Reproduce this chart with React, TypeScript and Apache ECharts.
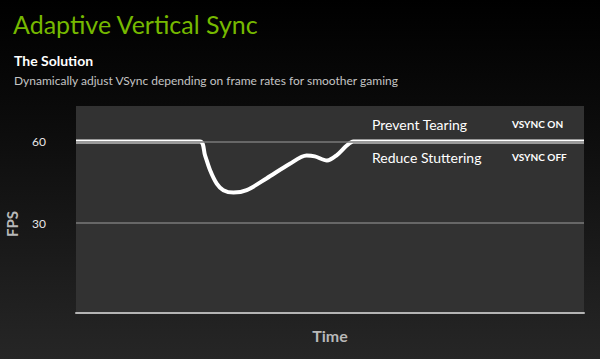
import React, { useEffect, useRef } from "react";
import * as echarts from "echarts";

const timePoints = [0, 24.4, 25.4, 26.4, 27.7, 29.0, 31.0, 33.6, 37.5, 42.1, 45.4, 47.0, 49.4, 51.3, 53.3, 54.6, 100];
const fpsValues = [60, 60, 54.9, 49.4, 44.5, 42.1, 41.2, 42.1, 46.4, 51.8, 54.8, 54.5, 53.0, 54.9, 58.5, 60, 60];
const yTickLabels = [30, 60];
const refLines = [30, 60];

export default function App() {
  const ref = useRef<HTMLDivElement>(null);
  useEffect(() => {
    if (!ref.current) return;
    const chart = echarts.init(ref.current, undefined, { renderer: "svg" });
    const font = "Lato, 'Open Sans', sans-serif";
    chart.setOption({
      animation: false,
      backgroundColor: {
        type: "linear",
        x: 0, y: 0, x2: 0, y2: 1,
        colorStops: [
          { offset: 0, color: "#000000" },
          { offset: 0.3, color: "#0a0a0a" },
          { offset: 1, color: "#262626" },
        ],
      },
      grid: {
        left: 76, right: 16, top: 106, bottom: 46,
        show: true, backgroundColor: "#323232", borderWidth: 0,
      },
      xAxis: {
        type: "value", min: 0, max: 100,
        axisLine: { show: true, onZero: false, lineStyle: { color: "#b4b4b4", width: 2 } },
        axisTick: { show: false }, axisLabel: { show: false }, splitLine: { show: false },
      },
      yAxis: {
        type: "value", min: -3, max: 73,
        axisLine: { show: false }, axisTick: { show: false }, splitLine: { show: false },
        axisLabel: {
          customValues: yTickLabels, color: "#e6e6e6", fontSize: 12, fontFamily: font, margin: 30,
        },
      },
      graphic: [
        { type: "text", left: 13, top: 11, style: { text: "Adaptive Vertical Sync", fill: "#76b900", font: `25px ${font}` } },
        { type: "text", left: 14, top: 53, style: { text: "The Solution", fill: "#ffffff", font: `bold 14px ${font}` } },
        { type: "text", left: 14, top: 74, style: { text: "Dynamically adjust VSync depending on frame rates for smoother gaming", fill: "#c4c4c4", font: `12px ${font}` } },
        { type: "text", x: 12, y: 224, rotation: Math.PI / 2, style: { text: "FPS", fill: "#b8b8b8", font: `bold 15px ${font}`, align: "center", verticalAlign: "middle" } },
        { type: "text", x: 330, y: 335, style: { text: "Time", fill: "#b8b8b8", font: `bold 16px ${font}`, align: "center", verticalAlign: "middle" } },
        { type: "text", x: 372, y: 124, style: { text: "Prevent Tearing", fill: "#ffffff", font: `14px ${font}`, verticalAlign: "middle" } },
        { type: "text", x: 372, y: 157, style: { text: "Reduce Stuttering", fill: "#ffffff", font: `14px ${font}`, verticalAlign: "middle" } },
        { type: "text", x: 512, y: 124, style: { text: "VSYNC ON", fill: "#ffffff", font: `bold 10px ${font}`, verticalAlign: "middle" } },
        { type: "text", x: 512, y: 157, style: { text: "VSYNC OFF", fill: "#ffffff", font: `bold 10px ${font}`, verticalAlign: "middle" } },
      ],
      series: [
        {
          type: "line", data: [], z: 1, silent: true,
          markLine: {
            silent: true, symbol: "none", label: { show: false },
            lineStyle: { color: "#7a7a7a", width: 1.5, type: "solid" },
            data: refLines.map((v) => ({ yAxis: v })),
          },
        },
        {
          type: "line", z: 3,
          data: timePoints.map((t, i) => [t, fpsValues[i]]),
          smooth: 0.3, showSymbol: false,
          lineStyle: { color: "#ffffff", width: 4 },
        },
      ],
    });
    return () => chart.dispose();
  }, []);
  return <div ref={ref} style={{ width: 600, height: 359, position: "fixed", left: 0, top: 0 }} />;
}
